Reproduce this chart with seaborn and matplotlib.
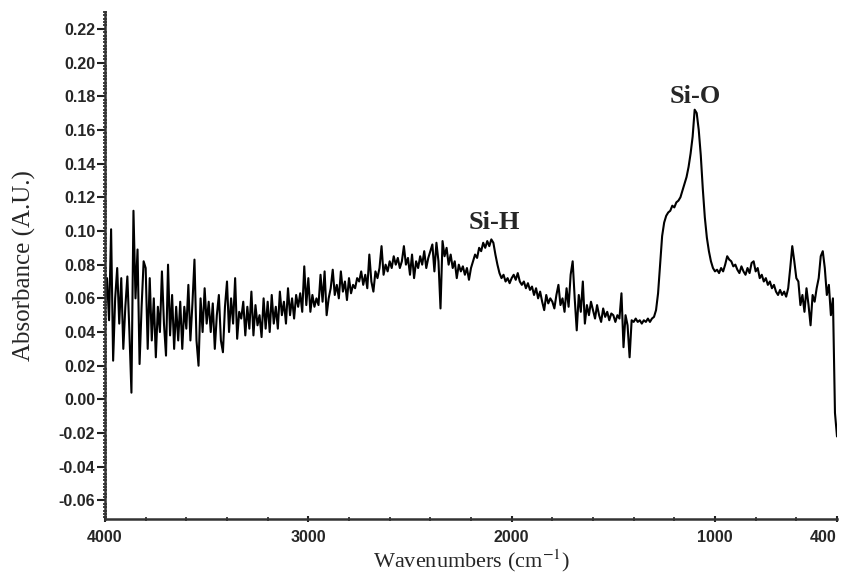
import numpy as np
import pandas as pd
import matplotlib
matplotlib.use('Agg')
import matplotlib.pyplot as plt
import seaborn as sns
from matplotlib.ticker import MultipleLocator, FixedLocator

# absorbance, in units of 0.001, one row per 100 cm-1
# (4000 -> 3910, 3900 -> 3810, ... , 500 -> 410, then 400)
absorb_milli = [
    55, 72, 47, 101, 23, 60, 78, 45, 72, 30,
    55, 73, 40, 4, 112, 60, 89, 21, 55, 82,
    78, 30, 72, 35, 60, 25, 55, 40, 76, 45,
    26, 80, 38, 62, 30, 55, 35, 58, 30, 55,
    42, 68, 35, 57, 83, 35, 20, 60, 40, 66,
    45, 58, 40, 57, 30, 50, 62, 35, 28, 55,
    70, 40, 60, 45, 72, 36, 52, 48, 58, 38,
    55, 42, 64, 38, 56, 44, 50, 37, 60, 42,
    58, 40, 62, 45, 55, 42, 64, 50, 58, 45,
    66, 50, 60, 48, 62, 55, 63, 52, 79, 56,
    72, 52, 62, 55, 60, 56, 74, 58, 76, 50,
    60, 66, 77, 62, 68, 60, 76, 64, 70, 59,
    72, 63, 68, 66, 72, 70, 76, 68, 74, 66,
    86, 70, 64, 76, 72, 78, 91, 74, 80, 76,
    82, 78, 85, 80, 84, 78, 82, 91, 80, 84,
    74, 86, 72, 82, 78, 85, 80, 88, 78, 84,
    88, 92, 76, 93, 82, 54, 94, 85, 90, 80,
    86, 78, 82, 72, 80, 76, 79, 74, 78, 71,
    78, 82, 86, 84, 90, 88, 93, 90, 94, 91,
    95, 93, 86, 80, 75, 72, 74, 70, 72, 69,
    72, 74, 71, 75, 70, 68, 70, 66, 69, 65,
    67, 62, 66, 60, 64, 58, 53, 62, 57, 60,
    58, 54, 62, 68, 56, 60, 52, 66, 55, 74,
    82, 60, 41, 62, 52, 70, 45, 56, 50, 58,
    53, 48, 56, 50, 46, 54, 49, 52, 47, 51,
    50, 46, 50, 48, 63, 31, 50, 44, 25, 47,
    46, 48, 46, 47, 45, 47, 46, 48, 46, 48,
    49, 53, 63, 80, 97, 105, 109, 111, 112, 115,
    114, 117, 118, 120, 124, 128, 132, 138, 146, 156,
    172, 170, 160, 145, 125, 108, 96, 88, 82, 78,
    76, 77, 75, 78, 76, 80, 85, 83, 82, 79,
    80, 77, 75, 79, 76, 74, 78, 75, 81, 82,
    76, 78, 72, 74, 70, 72, 68, 70, 66, 68,
    64, 62, 65, 62, 64, 61, 66, 78, 91, 82,
    72, 70, 56, 62, 52, 66, 56, 44, 62, 58,
    66, 72, 85, 88, 78, 62, 68, 50, 60, -8,
    -22,
]
wavenumber = np.linspace(4000, 400, len(absorb_milli))

spectrum = pd.DataFrame({'wavenumber': wavenumber,
                         'absorbance': np.array(absorb_milli) / 1000.0})

peak_labels = ['Si-H', 'Si-O']
peak_pos = [2087, 1098]
peak_height = [0.105, 0.180]

y_ticks = np.round(np.arange(-0.06, 0.221, 0.02), 2)
x_ticks = [4000, 3000, 2000, 1000, 400]

sns.set_style('ticks')
plt.rcParams['font.family'] = ['Liberation Sans', 'DejaVu Sans']
plt.rcParams['mathtext.fontset'] = 'stix'

fig = plt.figure(figsize=(8.41, 5.79), dpi=100)
ax = fig.add_axes([105 / 841, 1 - 519 / 579, (837 - 105) / 841, (519 - 12) / 579])

sns.lineplot(x='wavenumber', y='absorbance', data=spectrum, color='black',
             linewidth=1.5, estimator=None, ax=ax)

ax.set_xlim(4000, 400)
ax.set_ylim(-0.071, 0.23)
ax.xaxis.set_major_locator(FixedLocator(x_ticks))
ax.xaxis.set_minor_locator(MultipleLocator(200))
ax.set_yticks(y_ticks)
ax.set_yticklabels([f'{v:.2f}' for v in y_ticks])
ax.yaxis.set_minor_locator(MultipleLocator(0.002))

ax.tick_params(axis='both', which='major', labelsize=11.5, width=1.5, color='#222222')
ax.tick_params(axis='y', which='major', length=6, direction='out', pad=1)
ax.tick_params(axis='x', which='major', length=4, direction='inout', pad=6)
ax.tick_params(axis='both', which='minor', length=3, width=1.2, direction='inout', color='#222222')
for lab in ax.get_xticklabels() + ax.get_yticklabels():
    lab.set_fontweight('bold')
ax.get_xticklabels()[-1].set_horizontalalignment('right')

for side in ['left', 'bottom']:
    ax.spines[side].set_linewidth(1.8)
    ax.spines[side].set_color('#333333')
sns.despine(ax=ax)

ax.set_xlabel('Wavenumbers (cm$^{-1}$)', family=['Liberation Serif'], fontsize=16, labelpad=2)
ax.set_ylabel('Absorbance (A.U.)', family=['Liberation Serif'], fontsize=18, labelpad=16)

for lab, xp, yp in zip(peak_labels, peak_pos, peak_height):
    ax.text(xp, yp, lab, family=['Liberation Serif'], fontsize=19,
            fontweight='bold', ha='center', va='center')

fig.savefig('out.png', dpi=100)
